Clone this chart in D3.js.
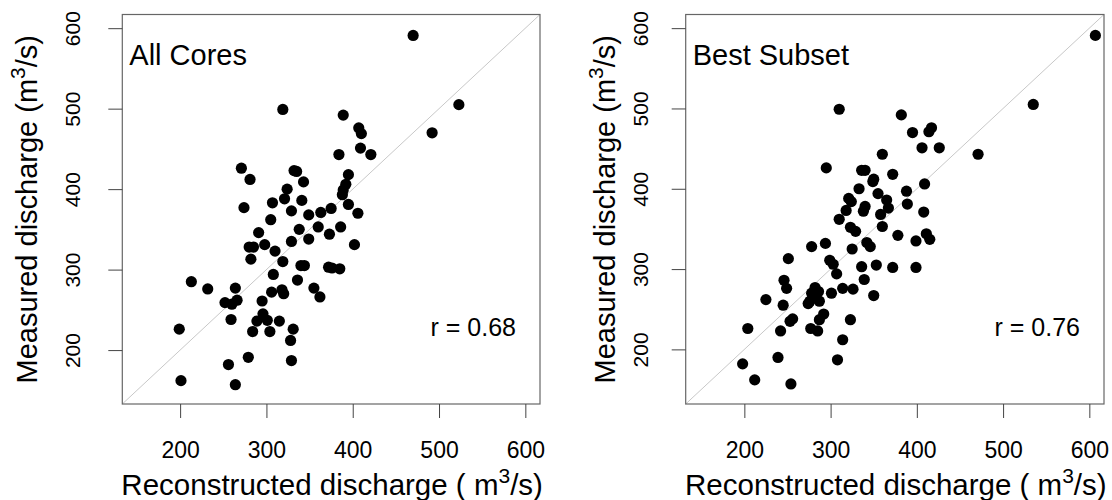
<!DOCTYPE html>
<html>
<head>
<meta charset="utf-8">
<script src="https://cdn.jsdelivr.net/npm/d3@7"></script>
<style>
  body { margin: 0; background: #fff; }
  svg { font-family: "Liberation Sans", Arial, sans-serif; }
</style>
</head>
<body>
<div id="chart"></div>
<script>
// Reconstructed vs measured discharge (m3/s)
const allRecon = [319, 389, 407, 410, 409, 421, 384, 271, 332, 335, 281, 343, 395, 392, 389, 388, 324, 321, 307, 341,
  274, 395, 406, 329, 349, 363, 375, 305, 338, 360, 386, 349, 373, 291, 329, 402, 280, 285, 298, 310,
  282, 319, 340, 344, 372, 376, 385, 213, 232, 264, 308, 336, 355, 362, 306, 318, 320, 252, 266, 260,
  295, 259, 296, 289, 301, 315, 284, 304, 331, 328, 199, 279, 256, 329, 201, 264, 470, 523, 492];
const allMeas = [499, 492, 476, 469, 451, 443, 443, 426, 423, 422, 412, 409, 418, 406, 399, 393, 400, 388, 383, 386,
  377, 381, 370, 373, 368, 371, 376, 362, 350, 353, 353, 338, 344, 346, 335, 331, 328, 328, 331, 323,
  313, 310, 305, 305, 303, 302, 301, 285, 276, 277, 294, 287, 277, 266, 272, 275, 270, 259, 262, 257,
  261, 238, 245, 236, 237, 236, 223, 223, 226, 212, 226, 191, 182, 187, 162, 157, 591, 505, 470];

const bestRecon = [310, 382, 417, 414, 395, 406, 426, 360, 471, 295, 336, 340, 350, 349, 372, 409, 333, 355, 388, 321,
  324, 365, 389, 340, 338, 318, 367, 358, 408, 310, 323, 329, 360, 378, 399, 411, 415, 278, 294, 325,
  342, 346, 251, 299, 303, 307, 336, 353, 372, 399, 339, 246, 249, 225, 245, 282, 278, 286, 276, 274,
  287, 282, 301, 314, 326, 350, 253, 256, 292, 287, 323, 277, 285, 242, 204, 314, 239, 308, 198, 212,
  254, 607, 535];
const bestMeas = [499, 492, 476, 471, 470, 451, 451, 443, 443, 426, 423, 423, 412, 409, 418, 406, 400, 394, 397, 388,
  384, 386, 381, 378, 372, 373, 376, 368, 371, 362, 352, 347, 353, 342, 335, 344, 337, 328, 332, 325,
  333, 328, 313, 311, 306, 294, 303, 305, 302, 302, 287, 286, 276, 262, 255, 277, 270, 272, 260, 257,
  260, 266, 270, 276, 275, 267, 235, 238, 244, 237, 237, 226, 223, 223, 226, 212, 190, 187, 182, 162,
  157, 591, 505];

const ticks = [200, 300, 400, 500, 600];

const panels = [
  {title: "All Cores", r: "r = 0.68", xs: allRecon, ys: allMeas,
   left: 122.3, right: 540, dom: [133, 617], ylabX: 37, ytickX: 80},
  {title: "Best Subset", r: "r = 0.76", xs: bestRecon, ys: bestMeas,
   left: 685.7, right: 1104, dom: [132, 617], ylabX: 615, ytickX: 648}
];

const plotTop = 14.5, plotBottom = 404;

const svg = d3.select("#chart")
  .append("svg")
    .attr("width", 1112)
    .attr("height", 500);

panels.forEach(function(p) {
  const x = d3.scaleLinear().domain(p.dom).range([p.left, p.right]);
  const y = d3.scaleLinear().domain(p.dom).range([plotBottom, plotTop]);

  // 1:1 line, corner to corner
  svg.append("line")
    .attr("x1", x(p.dom[0])).attr("y1", y(p.dom[0]))
    .attr("x2", x(p.dom[1])).attr("y2", y(p.dom[1]))
    .attr("stroke", "#c8c8c8")
    .attr("stroke-width", 1);

  // points
  svg.append("g")
    .selectAll("circle")
    .data(p.xs.map((v, i) => [v, p.ys[i]]))
    .enter().append("circle")
      .attr("cx", d => x(d[0]))
      .attr("cy", d => y(d[1]))
      .attr("r", 5.6)
      .attr("fill", "#000");

  // box
  svg.append("rect")
    .attr("x", p.left).attr("y", plotTop)
    .attr("width", p.right - p.left).attr("height", plotBottom - plotTop)
    .attr("fill", "none")
    .attr("stroke", "#666")
    .attr("stroke-width", 1.2);

  // x axis
  const gx = svg.append("g")
    .attr("transform", `translate(0,${plotBottom})`)
    .call(d3.axisBottom(x).tickValues(ticks).tickSize(14).tickSizeOuter(0));
  gx.select(".domain").remove();
  gx.selectAll("line").attr("stroke", "#444");
  gx.selectAll("text")
    .attr("y", 54).attr("dy", null)
    .attr("font-size", 23).attr("fill", "#000")
    .attr("font-family", "Liberation Sans, Arial, sans-serif");

  // y axis, rotated labels
  const gy = svg.append("g")
    .attr("transform", `translate(${p.left},0)`)
    .call(d3.axisLeft(y).tickValues(ticks).tickSize(14).tickSizeOuter(0));
  gy.select(".domain").remove();
  gy.selectAll("line").attr("stroke", "#444");
  gy.selectAll("text")
    .attr("transform", "rotate(-90)")
    .attr("x", 0)
    .attr("y", p.ytickX - p.left)
    .attr("dy", null)
    .attr("text-anchor", "middle")
    .attr("font-size", 21).attr("fill", "#000")
    .attr("font-family", "Liberation Sans, Arial, sans-serif");

  // x label
  const xl = svg.append("text")
    .attr("x", (p.left + p.right) / 2 + 1)
    .attr("y", 495)
    .attr("text-anchor", "middle")
    .attr("font-size", 29.5);
  xl.append("tspan").text("Reconstructed discharge ( m");
  xl.append("tspan").attr("font-size", 21).attr("dy", -12).text("3");
  xl.append("tspan").attr("dy", 12).text("/s)");

  // y label
  const yl = svg.append("text")
    .attr("transform", `translate(${p.ylabX},${(plotTop + plotBottom) / 2}) rotate(-90)`)
    .attr("text-anchor", "middle")
    .attr("font-size", 29);
  yl.append("tspan").text("Measured discharge (m");
  yl.append("tspan").attr("font-size", 21).attr("dy", -12).text("3");
  yl.append("tspan").attr("dy", 12).text("/s)");

  // panel title and correlation
  svg.append("text")
    .attr("x", p.left + 7)
    .attr("y", 65)
    .attr("font-size", 29)
    .text(p.title);

  svg.append("text")
    .attr("x", p.right - 24)
    .attr("y", 336)
    .attr("text-anchor", "end")
    .attr("font-size", 25)
    .text(p.r);
});
</script>
</body>
</html>
